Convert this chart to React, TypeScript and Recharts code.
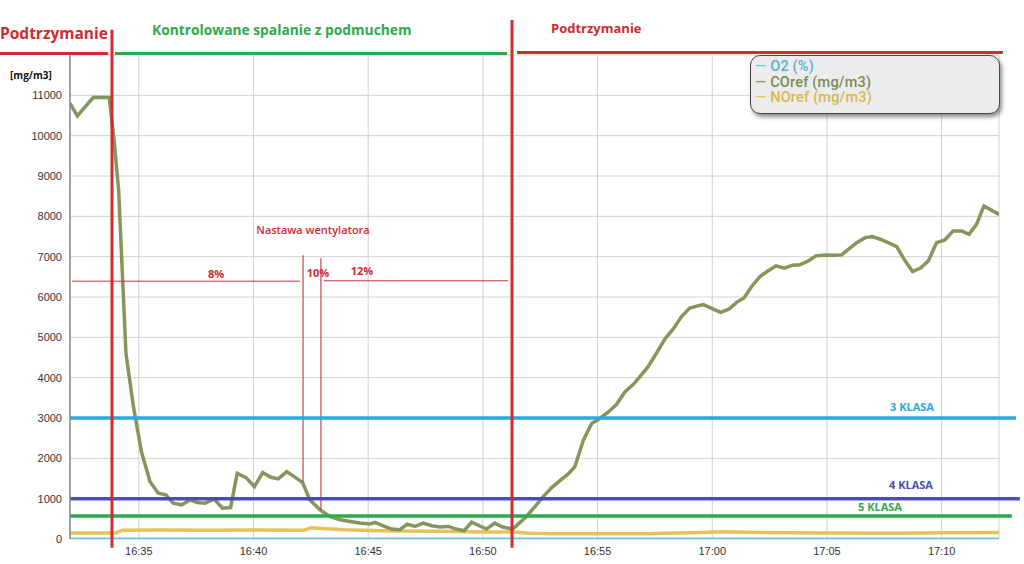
import React from 'react'
import { LineChart, Line, XAxis, YAxis, CartesianGrid, ReferenceLine } from 'recharts'

// time in minutes after 16:32
const coTime = [
  0, 0.32, 1.02, 1.71, 1.92, 2.12, 2.44, 2.76, 3.12, 3.49, 3.85, 4.18, 4.5, 4.87, 5.23, 5.55, 5.88, 6.28,
  6.65, 7.0, 7.29, 7.67, 8.04, 8.4, 8.76, 9.08, 9.45, 9.78, 10.14, 10.46, 10.9, 11.33, 11.77, 12.21, 12.64,
  13.05, 13.3, 13.66, 14.02, 14.38, 14.7, 15.04, 15.4, 15.77, 16.13, 16.5, 16.83, 17.18, 17.51, 17.84, 18.16,
  18.52, 18.86, 19.3, 19.9, 20.27, 20.63, 21.0, 21.36, 21.72, 22.01, 22.38, 22.74, 23.1, 23.47, 23.83, 24.19,
  24.56, 24.92, 25.21, 25.57, 25.94, 26.3, 26.66, 27.0, 27.35, 27.61, 28.02, 28.37, 28.74, 29.06, 29.38,
  29.71, 30.08, 30.44, 30.78, 31.14, 31.5, 31.82, 32.19, 32.52, 32.91, 33.27, 33.64, 33.97, 34.3, 34.66,
  34.99, 35.31, 35.67, 36.04, 36.36, 36.73, 37.08, 37.42, 37.78, 38.14, 38.5, 38.87, 39.19, 39.52, 39.84, 40.5,
]
const coValue = [
  10800, 10490, 10950, 10945, 9900, 8650, 4600, 3300, 2150, 1420, 1135, 1094, 889, 847, 970, 904, 889, 988,
  765, 780, 1630, 1521, 1299, 1645, 1531, 1489, 1669, 1546, 1398, 970, 723, 558, 477, 435, 395,
  370, 410, 328, 247, 230, 370, 311, 395, 328, 296, 311, 247, 205, 420, 328, 247,
  395, 296, 247, 558, 805, 1052, 1274, 1447, 1612, 1793, 2452, 2864, 2988, 3151, 3341, 3644,
  3835, 4074, 4279, 4607, 4963, 5210, 5514, 5720, 5780, 5810, 5704, 5620, 5704, 5867, 5975,
  6254, 6509, 6650, 6773, 6716, 6790, 6798, 6896, 7020, 7044, 7037, 7044, 7200, 7348, 7472,
  7496, 7432, 7348, 7249, 6938, 6632, 6716, 6896, 7348, 7415, 7637, 7637, 7556, 7802, 8254, 8049,
]

const noTime = [0, 1.7, 2.0, 2.3, 4, 6, 8, 10.2, 10.5, 11, 12, 14, 16, 18, 19.3, 20, 21, 25, 27.5, 28.5, 30, 33, 36, 38, 40.5]
const noValue = [146, 146, 150, 220, 225, 215, 225, 220, 280, 260, 230, 200, 190, 175, 175, 140, 130, 130, 160, 180, 160, 148, 140, 155, 160]

const o2Time = [0, 10, 20, 30, 40.5]
const o2Value = [20, 20, 20, 20, 20]

const yTicks = [0, 1000, 2000, 3000, 4000, 5000, 6000, 7000, 8000, 9000, 10000, 11000]
const xTicks = [3, 8, 13, 18, 23, 28, 33, 38]

// emission class limits (mg/m3)
const classNames = ['3 KLASA', '4 KLASA', '5 KLASA']
const classLimits = [3000, 1000, 570]
const classColors = ['#27a9e1', '#4a4db2', '#2aaa4c']

// phase boundaries (minutes)
const phaseTimes = [1.83, 19.27]

const series = [
  { name: 'O2 (%)', color: '#6fc3dc', text: '#5ab0d2' },
  { name: 'COref (mg/m3)', color: '#84965a', text: '#7b8a55' },
  { name: 'NOref (mg/m3)', color: '#e3c35c', text: '#d9b84c' },
]

const toRows = (ts: number[], vs: number[]) => ts.map((t, i) => ({ t, v: vs[i] }))
const coData = toRows(coTime, coValue)
const noData = toRows(noTime, noValue)
const o2Data = toRows(o2Time, o2Value)

const clock = (t: number) => {
  const total = Math.round(16 * 60 + 32 + t)
  const h = Math.floor(total / 60)
  const m = total % 60
  return `${h}:${m < 10 ? '0' + m : m}`
}

const RED = '#d22a31'
const GREEN = '#2eaa4e'

export default function App() {
  return (
    <div style={{ position: 'absolute', left: 0, top: 0, width: 1024, height: 564, background: '#fff' }}>
      <LineChart width={1024} height={564} margin={{ top: 55, right: 25, left: 0, bottom: 5 }}>
        <CartesianGrid stroke="#d2d2d2" strokeWidth={1} />
        <XAxis
          dataKey="t"
          type="number"
          domain={[0, 40.5]}
          ticks={xTicks}
          tickFormatter={clock}
          axisLine={false}
          tickLine={false}
          height={20}
          tick={{ fontSize: 11, fill: '#333', fontFamily: 'Liberation Sans, Arial, sans-serif' }}
          allowDataOverflow
        />
        <YAxis
          type="number"
          domain={[0, 12000]}
          ticks={yTicks}
          width={70}
          tickLine={false}
          axisLine={{ stroke: '#8a8a8a', strokeWidth: 1.5 }}
          tick={{ fontSize: 11, fill: '#333', fontFamily: 'Liberation Sans, Arial, sans-serif' }}
          allowDataOverflow
        />
        <Line data={o2Data} dataKey="v" stroke={series[0].color} strokeWidth={1.5} dot={false} isAnimationActive={false} />
        <Line data={noData} dataKey="v" stroke={series[2].color} strokeWidth={3.5} dot={false} isAnimationActive={false} />
        <Line data={coData} dataKey="v" stroke={series[1].color} strokeWidth={3.5} dot={false} isAnimationActive={false} />

        {/* fan setting annotation */}
        <ReferenceLine segment={[{ x: 0.09, y: 6392 }, { x: 10.03, y: 6392 }]} stroke="#c8323c" strokeWidth={1} ifOverflow="visible" />
        <ReferenceLine segment={[{ x: 11.07, y: 6402 }, { x: 19.09, y: 6402 }]} stroke="#c8323c" strokeWidth={1} ifOverflow="visible" />
        <ReferenceLine segment={[{ x: 10.16, y: 7037 }, { x: 10.16, y: 1412 }]} stroke="#b8242c" strokeWidth={1} ifOverflow="visible" />
        <ReferenceLine segment={[{ x: 10.94, y: 6962 }, { x: 10.94, y: 718 }]} stroke="#b8242c" strokeWidth={1} ifOverflow="visible" />

        {classLimits.map((lim, i) => (
          <ReferenceLine
            key={classNames[i]}
            segment={[{ x: 0, y: lim }, { x: [41.24, 41.41, 41.06][i], y: lim }]}
            stroke={classColors[i]}
            strokeWidth={3.5}
            ifOverflow="visible"
          />
        ))}

        {/* phase headers */}
        <ReferenceLine segment={[{ x: -3.05, y: 12035 }, { x: 1.66, y: 12035 }]} stroke={RED} strokeWidth={3} ifOverflow="visible" />
        <ReferenceLine segment={[{ x: 1.96, y: 12035 }, { x: 19.05, y: 12035 }]} stroke={GREEN} strokeWidth={3} ifOverflow="visible" />
        <ReferenceLine segment={[{ x: 19.49, y: 12060 }, { x: 40.67, y: 12060 }]} stroke={RED} strokeWidth={3} ifOverflow="visible" />
        {phaseTimes.map((t, i) => (
          <ReferenceLine
            key={t}
            segment={[{ x: t, y: i === 0 ? 12625 : 12870 }, { x: t, y: -215 }]}
            stroke={RED}
            strokeWidth={3}
            ifOverflow="visible"
          />
        ))}
      </LineChart>

      <svg
        width={1024}
        height={564}
        style={{ position: 'absolute', left: 0, top: 0, pointerEvents: 'none' }}
        fontFamily="'Open Sans', sans-serif"
      >
        <text x={0} y={39} fontSize={15.5} fontWeight={700} fill={RED}>Podtrzymanie</text>
        <text x={152} y={35} fontSize={13.8} fontWeight={700} fill={GREEN}>Kontrolowane spalanie z podmuchem</text>
        <text x={551} y={33} fontSize={13} fontWeight={700} fill={RED}>Podtrzymanie</text>
        <text x={10} y={79} fontSize={10} fontWeight={700} fill="#111">[mg/m3]</text>

        <text x={313} y={234} fontSize={11} fontWeight={600} fill={RED} textAnchor="middle">Nastawa wentylatora</text>
        <text x={216} y={278} fontSize={11} fontWeight={700} fill={RED} textAnchor="middle">8%</text>
        <text x={318} y={277} fontSize={11} fontWeight={700} fill={RED} textAnchor="middle">10%</text>
        <text x={362} y={275} fontSize={11} fontWeight={700} fill={RED} textAnchor="middle">12%</text>

        <text x={912} y={411} fontSize={11} fontWeight={700} fill={classColors[0]} textAnchor="middle">{classNames[0]}</text>
        <text x={911} y={489} fontSize={11} fontWeight={700} fill={classColors[1]} textAnchor="middle">{classNames[1]}</text>
        <text x={880} y={511} fontSize={11} fontWeight={700} fill={classColors[2]} textAnchor="middle">{classNames[2]}</text>
      </svg>

      <div
        style={{
          position: 'absolute',
          left: 750,
          top: 55,
          width: 244,
          height: 54,
          borderRadius: 10,
          border: '1.5px solid #4a4a4a',
          background: '#ececec',
          boxShadow: '2px 3px 4px rgba(0,0,0,0.45)',
          padding: '3px 0 0 4px',
          fontFamily: 'Roboto, sans-serif',
          fontSize: 14.5,
          fontWeight: 500,
          letterSpacing: 0.2,
          lineHeight: '15.5px',
        }}
      >
        {series.map((s) => (
          <div key={s.name} style={{ color: s.text }}>
            <span style={{ color: s.color }}>—</span> {s.name}
          </div>
        ))}
      </div>
    </div>
  )
}
